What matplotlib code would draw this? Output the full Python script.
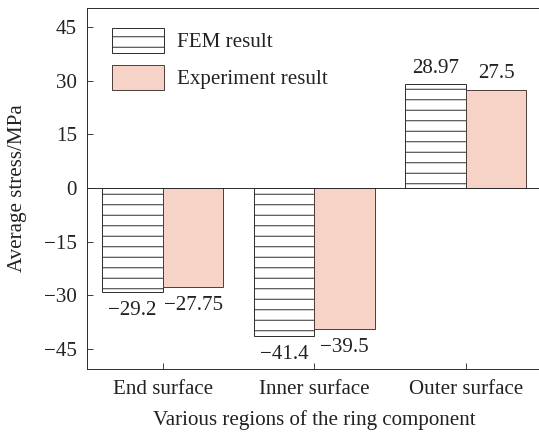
import numpy as np
import matplotlib
matplotlib.use("Agg")
import matplotlib.pyplot as plt

# ---------- data ----------
regions = ["End surface", "Inner surface", "Outer surface"]
fem_stress = [-29.2, -41.4, 28.97]
exp_stress = [-27.75, -39.5, 27.5]
fem_labels = ["\u221229.2", "\u221241.4", "28.97"]
exp_labels = ["\u221227.75", "\u221239.5", "27.5"]
y_ticks = [-45, -30, -15, 0, 15, 30, 45]

DPI = 63
plt.rcParams['font.family'] = ['Liberation Serif', 'DejaVu Serif']
plt.rcParams['font.size'] = 24
plt.rcParams['hatch.linewidth'] = 1.1
plt.rcParams['axes.unicode_minus'] = True
text_col = "#222222"

fig = plt.figure(figsize=(539 / DPI, 435 / DPI), dpi=DPI)
W, H = 539, 435
ax = fig.add_axes([87 / W, (H - 369) / H, 454.5 / W, 361 / H])

x = np.arange(len(regions))
w = 0.4
b1 = ax.bar(x - w / 2, fem_stress, w, facecolor="white", edgecolor="#2a2a2a",
            hatch="-", linewidth=1.1, label="FEM result")
b2 = ax.bar(x + w / 2, exp_stress, w, facecolor="#f6d3c6", edgecolor="#4a3c38",
            linewidth=1.1, label="Experiment result")
ax.axhline(0, color="#2a2a2a", linewidth=1.1, zorder=3)

# ---------- value labels ----------
for bars, labels in [(b1, fem_labels), (b2, exp_labels)]:
    for rect, lab in zip(bars, labels):
        h = rect.get_height()
        off = 16 if h > 0 else -18
        ax.annotate(lab, (rect.get_x() + rect.get_width() / 2, h),
                    xytext=(0, off), textcoords="offset pixels",
                    ha="center", va="center", color=text_col)

ax.set_xlim(-0.5, 2.5)
ax.set_ylim(-50.6, 50.3)
ax.set_yticks(y_ticks)
ax.set_xticks(x)
ax.set_xticklabels(regions)
ax.tick_params(direction="in", length=6 * 72 / DPI, width=1, color="#2a2a2a",
               labelcolor=text_col)
ax.tick_params(axis="y", pad=10 * 72 / DPI)
ax.tick_params(axis="x", pad=11 * 72 / DPI)
ax.spines["right"].set_visible(False)
for s in ["left", "top", "bottom"]:
    ax.spines[s].set_color("#2a2a2a")
    ax.spines[s].set_linewidth(1.1)

ax.set_ylabel("Average stress/MPa", color=text_col, va="center", ha="center")
ax.yaxis.set_label_coords(-0.152, 0.5)
ax.set_xlabel("Various regions of the ring component", color=text_col,
              va="center", ha="center")
ax.xaxis.set_label_coords(0.5, -0.141)

leg = ax.legend(loc="upper left", bbox_to_anchor=(0.055, 0.945), frameon=False,
                borderaxespad=0, borderpad=0, handlelength=2.5, handleheight=1.45,
                handletextpad=0.6, labelspacing=0.58)
for t in leg.get_texts():
    t.set_color(text_col)

fig.savefig("out.png", dpi=DPI)
